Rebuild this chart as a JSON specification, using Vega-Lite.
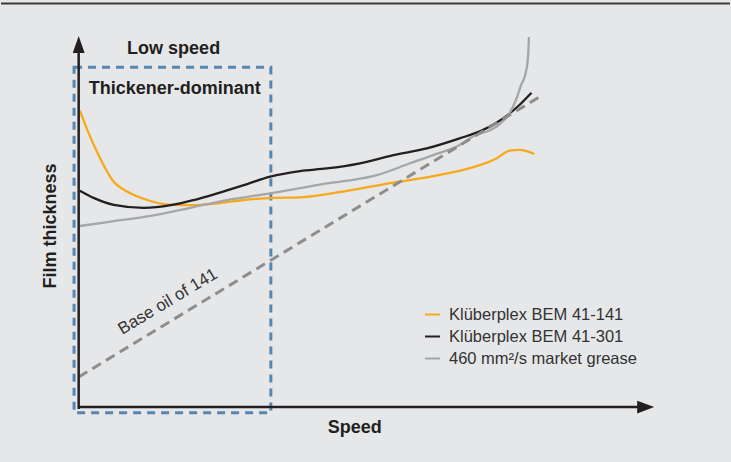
{
  "$schema": "https://vega.github.io/schema/vega-lite/v6.json",
  "width": 731,
  "height": 462,
  "autosize": {"type": "fit", "contains": "padding"},
  "padding": 0,
  "background": "#e6e7e9",
  "config": {"view": {"stroke": null}, "font": "Liberation Sans"},
  "encoding": {
    "x": {"field": "x", "type": "quantitative", "scale": {"domain": [-13.5, 113.2], "nice": false, "zero": false}, "axis": null},
    "y": {"field": "y", "type": "quantitative", "scale": {"domain": [-14.3, 110.2], "nice": false, "zero": false}, "axis": null}
  },
  "layer": [
    {
      "data": {"values": [{"x": -0.8, "x2": 33.4, "y": 92.1, "y2": -1.0}]},
      "mark": {"type": "rect", "fill": "transparent", "stroke": "#5686b0", "strokeWidth": 3, "strokeDash": [8, 6]},
      "encoding": {"x2": {"field": "x2"}, "y2": {"field": "y2"}}
    },
    {
      "data": {"values": [{"x": -13.5, "x2": 113.2, "y": 109.25}]},
      "mark": {"type": "rule", "color": "#3a3a3a", "strokeWidth": 2},
      "encoding": {"x2": {"field": "x2"}}
    },
    {
      "data": {"values": [
        {"series": "Klüberplex BEM 41-141", "x": 0.2, "y": 80.4},
        {"series": "Klüberplex BEM 41-141", "x": 1.5, "y": 75.2},
        {"series": "Klüberplex BEM 41-141", "x": 3.3, "y": 68.9},
        {"series": "Klüberplex BEM 41-141", "x": 6.1, "y": 61.2},
        {"series": "Klüberplex BEM 41-141", "x": 8.5, "y": 58.5},
        {"series": "Klüberplex BEM 41-141", "x": 11.9, "y": 56.3},
        {"series": "Klüberplex BEM 41-141", "x": 16.0, "y": 55.0},
        {"series": "Klüberplex BEM 41-141", "x": 20.0, "y": 54.9},
        {"series": "Klüberplex BEM 41-141", "x": 24.1, "y": 55.4},
        {"series": "Klüberplex BEM 41-141", "x": 28.7, "y": 56.3},
        {"series": "Klüberplex BEM 41-141", "x": 33.9, "y": 56.9},
        {"series": "Klüberplex BEM 41-141", "x": 38.5, "y": 57.0},
        {"series": "Klüberplex BEM 41-141", "x": 43.1, "y": 57.9},
        {"series": "Klüberplex BEM 41-141", "x": 48.9, "y": 59.4},
        {"series": "Klüberplex BEM 41-141", "x": 54.7, "y": 61.0},
        {"series": "Klüberplex BEM 41-141", "x": 60.5, "y": 62.4},
        {"series": "Klüberplex BEM 41-141", "x": 64.5, "y": 63.6},
        {"series": "Klüberplex BEM 41-141", "x": 68.5, "y": 65.1},
        {"series": "Klüberplex BEM 41-141", "x": 72.6, "y": 67.5},
        {"series": "Klüberplex BEM 41-141", "x": 74.9, "y": 69.6},
        {"series": "Klüberplex BEM 41-141", "x": 76.6, "y": 69.8},
        {"series": "Klüberplex BEM 41-141", "x": 79.2, "y": 68.7},
        {"series": "Klüberplex BEM 41-301", "x": 0.2, "y": 58.8},
        {"series": "Klüberplex BEM 41-301", "x": 2.7, "y": 56.8},
        {"series": "Klüberplex BEM 41-301", "x": 6.1, "y": 55.0},
        {"series": "Klüberplex BEM 41-301", "x": 11.3, "y": 54.2},
        {"series": "Klüberplex BEM 41-301", "x": 16.0, "y": 54.9},
        {"series": "Klüberplex BEM 41-301", "x": 20.0, "y": 56.3},
        {"series": "Klüberplex BEM 41-301", "x": 24.1, "y": 58.1},
        {"series": "Klüberplex BEM 41-301", "x": 28.7, "y": 60.3},
        {"series": "Klüberplex BEM 41-301", "x": 33.3, "y": 62.6},
        {"series": "Klüberplex BEM 41-301", "x": 38.5, "y": 64.1},
        {"series": "Klüberplex BEM 41-301", "x": 43.1, "y": 64.8},
        {"series": "Klüberplex BEM 41-301", "x": 48.9, "y": 66.2},
        {"series": "Klüberplex BEM 41-301", "x": 54.7, "y": 68.4},
        {"series": "Klüberplex BEM 41-301", "x": 60.5, "y": 70.2},
        {"series": "Klüberplex BEM 41-301", "x": 66.2, "y": 72.9},
        {"series": "Klüberplex BEM 41-301", "x": 70.3, "y": 75.2},
        {"series": "Klüberplex BEM 41-301", "x": 74.3, "y": 78.9},
        {"series": "Klüberplex BEM 41-301", "x": 76.6, "y": 81.9},
        {"series": "Klüberplex BEM 41-301", "x": 78.7, "y": 85.2},
        {"series": "460 mm²/s market grease", "x": 0.2, "y": 49.3},
        {"series": "460 mm²/s market grease", "x": 5.6, "y": 50.5},
        {"series": "460 mm²/s market grease", "x": 12.5, "y": 52.0},
        {"series": "460 mm²/s market grease", "x": 20.0, "y": 54.4},
        {"series": "460 mm²/s market grease", "x": 25.8, "y": 56.3},
        {"series": "460 mm²/s market grease", "x": 33.3, "y": 58.1},
        {"series": "460 mm²/s market grease", "x": 38.5, "y": 59.5},
        {"series": "460 mm²/s market grease", "x": 43.1, "y": 60.8},
        {"series": "460 mm²/s market grease", "x": 47.7, "y": 61.7},
        {"series": "460 mm²/s market grease", "x": 51.8, "y": 63.0},
        {"series": "460 mm²/s market grease", "x": 57.6, "y": 66.2},
        {"series": "460 mm²/s market grease", "x": 61.6, "y": 68.4},
        {"series": "460 mm²/s market grease", "x": 66.2, "y": 71.1},
        {"series": "460 mm²/s market grease", "x": 68.5, "y": 73.4},
        {"series": "460 mm²/s market grease", "x": 72.6, "y": 76.1},
        {"series": "460 mm²/s market grease", "x": 74.9, "y": 79.7},
        {"series": "460 mm²/s market grease", "x": 76.1, "y": 83.7},
        {"series": "460 mm²/s market grease", "x": 76.9, "y": 87.3},
        {"series": "460 mm²/s market grease", "x": 77.6, "y": 90.0},
        {"series": "460 mm²/s market grease", "x": 78.05, "y": 94.0},
        {"series": "460 mm²/s market grease", "x": 78.2, "y": 98.1},
        {"series": "460 mm²/s market grease", "x": 78.25, "y": 100.2}
      ]},
      "mark": {"type": "line", "interpolate": "monotone", "strokeWidth": 2.3},
      "encoding": {
        "color": {
          "field": "series",
          "type": "nominal",
          "scale": {
            "domain": ["Klüberplex BEM 41-141", "Klüberplex BEM 41-301", "460 mm²/s market grease"],
            "range": ["#f7a81b", "#231f20", "#a5a6a8"]
          },
          "legend": {
            "orient": "none",
            "legendX": 423,
            "legendY": 306,
            "title": null,
            "padding": 0,
            "symbolType": "stroke",
            "symbolSize": 225,
            "symbolStrokeWidth": 2,
            "labelFont": "Liberation Sans",
            "labelFontSize": 16.5,
            "labelColor": "#333333",
            "labelOffset": 8,
            "rowPadding": 5,
            "labelLimit": 400
          }
        }
      }
    },
    {
      "data": {"values": [{"x": 0, "y": 8.6}, {"x": 80.0, "y": 84.0}]},
      "mark": {"type": "line", "color": "#8d8d8d", "strokeWidth": 3, "strokeDash": [10, 6]},
      "encoding": {}
    },
    {
      "data": {"values": [{"x": 0, "y": 0.5, "x2": 97.5, "y2": 0.5}, {"x": 0, "y": 0.0, "x2": 0, "y2": 96}]},
      "mark": {"type": "rule", "color": "#231f20", "strokeWidth": 2.5},
      "encoding": {"x2": {"field": "x2"}, "y2": {"field": "y2"}}
    },
    {
      "data": {"values": [{"x": 0, "y": 98.2}]},
      "mark": {"type": "point", "shape": "M0,-1L0.7,1L-0.7,1Z", "size": 289, "filled": true, "color": "#231f20", "opacity": 1}
    },
    {
      "data": {"values": [{"x": 98.55, "y": 0.5}]},
      "mark": {"type": "point", "shape": "M1,0L-1,-0.75L-1,0.75Z", "size": 289, "filled": true, "color": "#231f20", "opacity": 1}
    },
    {
      "data": {"values": [
        {"label": "Low speed", "x": 16.5, "y": 95.6},
        {"label": "Thickener-dominant", "x": 16.7, "y": 84.9},
        {"label": "Speed", "x": 48.0, "y": -6.6}
      ]},
      "mark": {"type": "text", "fontSize": 18, "fontWeight": "bold", "align": "center", "baseline": "alphabetic", "color": "#231f20", "font": "Liberation Sans"},
      "encoding": {"text": {"field": "label"}}
    },
    {
      "data": {"values": [{"label": "Film thickness", "x": -4.0, "y": 49.3}]},
      "mark": {"type": "text", "fontSize": 18, "fontWeight": "bold", "align": "center", "baseline": "alphabetic", "angle": 270, "color": "#231f20", "font": "Liberation Sans"},
      "encoding": {"text": {"field": "label"}}
    },
    {
      "data": {"values": [{"label": "Base oil of 141", "x": 15.5, "y": 28.9}]},
      "mark": {"type": "text", "fontSize": 17, "align": "center", "baseline": "middle", "angle": 329, "color": "#333333", "font": "Liberation Sans"},
      "encoding": {"text": {"field": "label"}}
    }
  ]
}
